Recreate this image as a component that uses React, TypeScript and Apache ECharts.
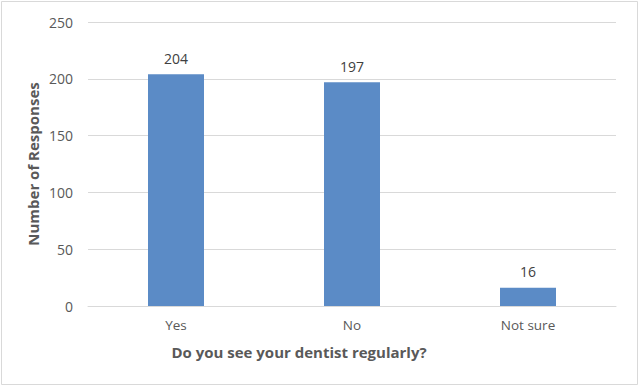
import React, { useEffect, useRef } from "react";
import * as echarts from "echarts";

const categories = ["Yes", "No", "Not sure"];
const responses = [204, 197, 16];
const yTicks = { min: 0, max: 250, interval: 50 };
const xTitle = "Do you see your dentist regularly?";
const yTitle = "Number of Responses";

const FONT = "'Open Sans', 'Noto Sans', sans-serif";

export default function App() {
  const ref = useRef<HTMLDivElement>(null);
  useEffect(() => {
    document.body.style.margin = "0";
    const chart = echarts.init(ref.current!, null, { renderer: "svg" });
    chart.setOption({
      animation: false,
      backgroundColor: "#ffffff",
      grid: { left: 88, right: 24, top: 22, bottom: 82, containLabel: false },
      xAxis: {
        type: "category",
        data: categories,
        axisLine: { lineStyle: { color: "#d9d9d9" } },
        axisTick: { show: false },
        axisLabel: { color: "#595959", fontSize: 13.5, fontFamily: FONT, margin: 12 },
      },
      yAxis: {
        type: "value",
        min: yTicks.min,
        max: yTicks.max,
        interval: yTicks.interval,
        axisLine: { show: false },
        axisTick: { show: false },
        splitLine: { lineStyle: { color: "#d9d9d9" } },
        axisLabel: { color: "#595959", fontSize: 14, fontFamily: FONT, margin: 15 },
      },
      series: [
        {
          type: "bar",
          data: responses,
          barWidth: 56,
          itemStyle: { color: "#5b8bc6" },
          label: {
            show: true,
            position: "top",
            distance: 9,
            color: "#404040",
            fontSize: 14,
            fontFamily: FONT,
          },
        },
      ],
      graphic: [
        {
          type: "rect",
          shape: { x: 1.5, y: 1.5, width: 636, height: 383 },
          style: { fill: "none", stroke: "#d9d9d9", lineWidth: 1 },
          silent: true,
        },
        {
          type: "text",
          x: 299,
          y: 352,
          style: {
            text: xTitle,
            fill: "#595959",
            font: `bold 15px ${FONT}`,
            textAlign: "center",
            textVerticalAlign: "middle",
          },
        },
        {
          type: "text",
          x: 33,
          y: 164,
          rotation: Math.PI / 2,
          style: {
            text: yTitle,
            fill: "#595959",
            font: `bold 15px ${FONT}`,
            textAlign: "center",
            textVerticalAlign: "middle",
          },
        },
      ],
    });
    return () => chart.dispose();
  }, []);
  return <div ref={ref} style={{ width: 640, height: 388 }} />;
}
